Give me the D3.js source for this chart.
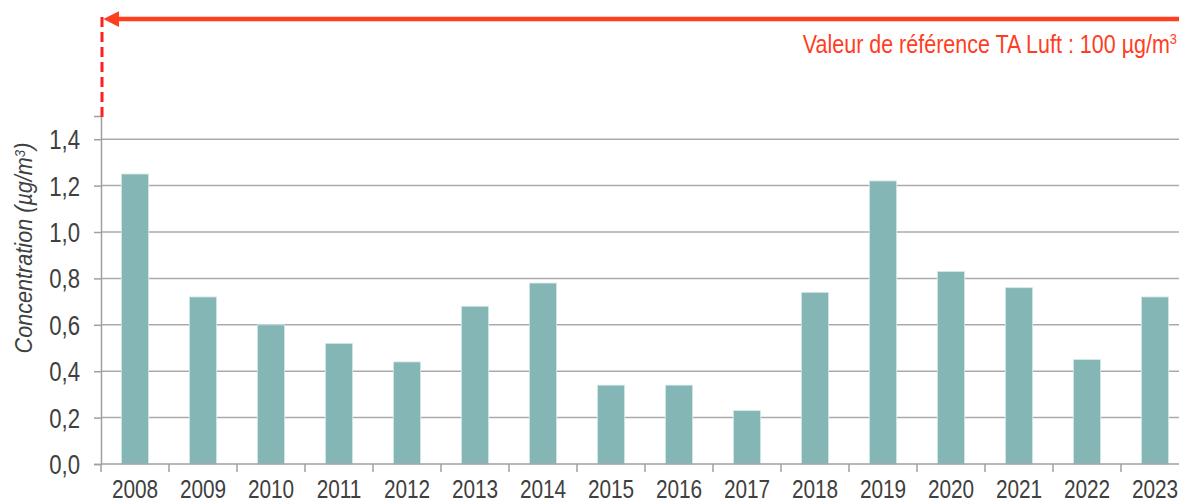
<!DOCTYPE html>
<html>
<head>
<meta charset="utf-8">
<script src="https://cdn.jsdelivr.net/npm/d3@7"></script>
<style>
  html, body { margin: 0; padding: 0; background: #fff; overflow: hidden; }
  text { font-family: "Liberation Sans", Arial, sans-serif; }
</style>
</head>
<body>
<div id="chart"></div>
<script>
// data
const years = ["2008", "2009", "2010", "2011", "2012", "2013", "2014", "2015",
               "2016", "2017", "2018", "2019", "2020", "2021", "2022", "2023"];
const concentrations = [1.25, 0.72, 0.60, 0.52, 0.44, 0.68, 0.78, 0.34,
                        0.34, 0.23, 0.74, 1.22, 0.83, 0.76, 0.45, 0.72];
const yTicks = [0, 0.2, 0.4, 0.6, 0.8, 1.0, 1.2, 1.4];
const yMax = 1.5;
const yTitle = "Concentration (µg/m";
const refText = "Valeur de référence TA Luft : 100 µg/m";

// sizes
const svgWidth = 1179, svgHeight = 504;
const plotLeft = 101, plotRight = 1189, plotTop = 116, plotBottom = 464;

const svg = d3.select("#chart").append("svg")
    .attr("width", svgWidth)
    .attr("height", svgHeight);

// scales
const x = d3.scaleBand()
    .domain(years)
    .range([plotLeft, plotRight])
    .paddingInner(0.6)
    .paddingOuter(0.3);

const y = d3.scaleLinear()
    .domain([0, yMax])
    .range([plotBottom, plotTop]);

// gridlines
svg.append("g")
  .selectAll("line")
  .data(yTicks.filter(d => d > 0))
  .join("line")
    .attr("x1", plotLeft)
    .attr("x2", plotRight)
    .attr("y1", d => y(d))
    .attr("y2", d => y(d))
    .attr("stroke", "#ababab")
    .attr("stroke-width", 1.5);

// bars
svg.append("g")
  .selectAll("rect")
  .data(years.map((yr, i) => ({year: yr, value: concentrations[i]})))
  .join("rect")
    .attr("x", d => x(d.year))
    .attr("y", d => y(d.value))
    .attr("width", x.bandwidth())
    .attr("height", d => y(0) - y(d.value))
    .attr("fill", "#84b6b6")
    .attr("stroke", "#d6e9e9")
    .attr("stroke-width", 0.8);

// y axis
const yAxis = svg.append("g")
    .attr("transform", "translate(" + plotLeft + ",0)")
    .call(d3.axisLeft(y)
      .tickValues(yTicks)
      .tickSize(7)
      .tickFormat(d => d3.format(".1f")(d).replace(".", ",")));
yAxis.select(".domain").attr("stroke", "#a0a0a0").attr("stroke-width", 1.5);
yAxis.selectAll(".tick line").attr("stroke", "#a0a0a0").attr("stroke-width", 1.5);
yAxis.selectAll(".tick text")
    .attr("fill", "#404040")
    .attr("x", -21 / 0.82)
    .attr("dy", "0.35em")
    .attr("transform", "scale(0.82,1)")
    .style("font-size", "27px");

// x axis: ticks sit on category borders
const xAxis = svg.append("g")
    .attr("transform", "translate(0," + plotBottom + ")");
xAxis.append("line")
    .attr("x1", plotLeft).attr("x2", plotRight)
    .attr("stroke", "#a0a0a0").attr("stroke-width", 1.5);
xAxis.selectAll(".xtick")
  .data(years.concat(["end"]))
  .join("line")
    .attr("class", "xtick")
    .attr("x1", (d, i) => plotLeft + i * x.step())
    .attr("x2", (d, i) => plotLeft + i * x.step())
    .attr("y1", 0).attr("y2", 8)
    .attr("stroke", "#a0a0a0").attr("stroke-width", 1.5);
xAxis.selectAll(".xlabel")
  .data(years)
  .join("text")
    .attr("class", "xlabel")
    .attr("transform", d => "translate(" + (x(d) + x.bandwidth() / 2) + ",34) scale(0.8,1)")
    .attr("text-anchor", "middle")
    .attr("fill", "#404040")
    .style("font-size", "26px")
    .text(d => d);

// y title
const yt = svg.append("text")
    .attr("transform", "translate(32,248) rotate(-90) scale(0.94,1)")
    .attr("text-anchor", "middle")
    .attr("fill", "#404040")
    .style("font-size", "23px")
    .style("font-style", "italic");
yt.append("tspan").text(yTitle);
yt.append("tspan").attr("baseline-shift", "super").style("font-size", "14px").text("3");
yt.append("tspan").text(")");

// reference value arrow (off the scale, points to the y axis)
const refY = 19;
svg.append("defs").append("marker")
    .attr("id", "arrowhead")
    .attr("viewBox", "0 0 10 10")
    .attr("refX", 0).attr("refY", 5)
    .attr("markerWidth", 4).attr("markerHeight", 3.5)
    .attr("markerUnits", "strokeWidth")
    .attr("orient", "auto-start-reverse")
  .append("path")
    .attr("d", "M0,0 L10,5 L0,10 z")
    .attr("fill", "#ff3d1f");

svg.append("line")
    .attr("x1", plotLeft + 1)
    .attr("x2", plotLeft + 1)
    .attr("y1", refY - 2)
    .attr("y2", plotTop + 2)
    .attr("stroke", "#ff1f1f")
    .attr("stroke-width", 3)
    .attr("stroke-dasharray", "10,5");

svg.append("line")
    .attr("x1", svgWidth + 5)
    .attr("x2", plotLeft + 18)
    .attr("y1", refY)
    .attr("y2", refY)
    .attr("stroke", "#ff3d1f")
    .attr("stroke-width", 4.5)
    .attr("marker-end", "url(#arrowhead)");

const rt = svg.append("text")
    .attr("transform", "translate(1177,53) scale(0.86,1)")
    .attr("text-anchor", "end")
    .attr("fill", "#ff3d1f")
    .style("font-size", "25px");
rt.append("tspan").text(refText);
rt.append("tspan").attr("baseline-shift", "super").style("font-size", "15px").text("3");
</script>
</body>
</html>
